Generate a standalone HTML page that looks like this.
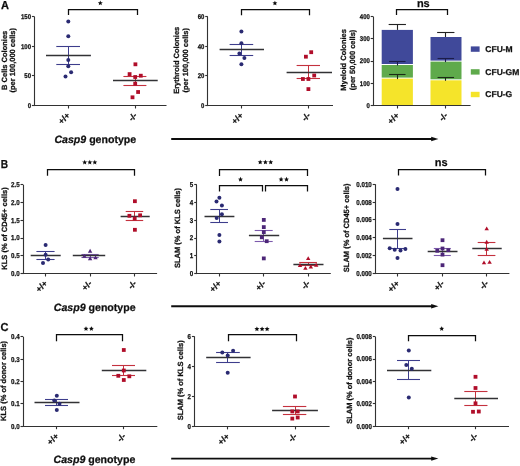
<!DOCTYPE html>
<html><head><meta charset="utf-8"><style>
html,body{margin:0;padding:0;background:#fff;width:520px;height:466px;overflow:hidden}
svg{display:block;will-change:transform}
text{font-family:"Liberation Sans",sans-serif;font-weight:bold;text-rendering:geometricPrecision;stroke:#111;stroke-width:0.25px}
</style></head><body>
<svg width="520" height="466" viewBox="0 0 520 466">
<defs><filter id="bl" x="0" y="0" width="100%" height="100%"><feGaussianBlur stdDeviation="0.3"/></filter></defs>
<rect width="520" height="466" fill="#fff"/>
<g filter="url(#bl)">
<text transform="translate(1.1,9.2) scale(0.96,1)" font-size="11.5" fill="#111">A</text>
<line x1="34.5" y1="16.6" x2="34.5" y2="106.05" stroke="#333333" stroke-width="1.1"/>
<line x1="31.9" y1="16.5" x2="34.5" y2="16.5" stroke="#333333" stroke-width="1.1"/>
<text transform="translate(31.00,19.00) scale(0.870,1)" font-size="6.90" text-anchor="end" fill="#111">150</text>
<line x1="31.9" y1="46.5" x2="34.5" y2="46.5" stroke="#333333" stroke-width="1.1"/>
<text transform="translate(31.00,48.60) scale(0.870,1)" font-size="6.90" text-anchor="end" fill="#111">100</text>
<line x1="31.9" y1="75.5" x2="34.5" y2="75.5" stroke="#333333" stroke-width="1.1"/>
<text transform="translate(31.00,78.20) scale(0.870,1)" font-size="6.90" text-anchor="end" fill="#111">50</text>
<line x1="31.9" y1="105.5" x2="34.5" y2="105.5" stroke="#333333" stroke-width="1.1"/>
<text transform="translate(31.00,107.80) scale(0.870,1)" font-size="6.90" text-anchor="end" fill="#111">0</text>
<line x1="33.95" y1="105.5" x2="166.5" y2="105.5" stroke="#333333" stroke-width="1.1"/>
<line x1="68.5" y1="105.5" x2="68.5" y2="108.5" stroke="#333333" stroke-width="1.1"/>
<text transform="translate(70.40,116.00) rotate(-45)" font-size="8.5" text-anchor="end" fill="#111">+/+</text>
<line x1="135.5" y1="105.5" x2="135.5" y2="108.5" stroke="#333333" stroke-width="1.1"/>
<text transform="translate(137.60,116.00) rotate(-45)" font-size="8.5" text-anchor="end" fill="#111">-/-</text>
<polyline points="68.5,15.0 68.5,9.5 137.5,9.5 137.5,15.0" fill="none" stroke="#111" stroke-width="1.25"/>
<polygon points="100.30,0.55 101.01,2.18 102.77,2.35 101.44,3.52 101.83,5.25 100.30,4.35 98.77,5.25 99.16,3.52 97.83,2.35 99.59,2.18" fill="#111"/>
<line x1="56.3" y1="46.5" x2="80" y2="46.5" stroke="#3e3e8c" stroke-width="1.1"/>
<line x1="56.3" y1="64.5" x2="80" y2="64.5" stroke="#3e3e8c" stroke-width="1.1"/>
<line x1="68.5" y1="46.1" x2="68.5" y2="64.1" stroke="#3e3e8c" stroke-width="1.0"/>
<line x1="46" y1="55.5" x2="90.9" y2="55.5" stroke="#303036" stroke-width="1.5"/>
<circle cx="68.3" cy="21.4" r="2.0" fill="#2b2b72"/>
<circle cx="68.3" cy="36.2" r="2.0" fill="#2b2b72"/>
<circle cx="68.3" cy="59.9" r="2.0" fill="#2b2b72"/>
<circle cx="68.3" cy="66.3" r="2.0" fill="#2b2b72"/>
<circle cx="71.1" cy="72.2" r="2.0" fill="#2b2b72"/>
<circle cx="65.5" cy="76.5" r="2.0" fill="#2b2b72"/>
<line x1="123.4" y1="76.5" x2="146.4" y2="76.5" stroke="#c4303c" stroke-width="1.1"/>
<line x1="123.4" y1="85.5" x2="146.4" y2="85.5" stroke="#c4303c" stroke-width="1.1"/>
<line x1="135.5" y1="76.1" x2="135.5" y2="85" stroke="#c4303c" stroke-width="1.0"/>
<line x1="113" y1="80.5" x2="157.7" y2="80.5" stroke="#303036" stroke-width="1.5"/>
<rect x="133.50" y="62.40" width="3.8" height="3.8" fill="#b0102a"/>
<rect x="127.70" y="72.20" width="3.8" height="3.8" fill="#b0102a"/>
<rect x="133.30" y="75.10" width="3.8" height="3.8" fill="#b0102a"/>
<rect x="138.90" y="73.80" width="3.8" height="3.8" fill="#b0102a"/>
<rect x="133.30" y="81.80" width="3.8" height="3.8" fill="#b0102a"/>
<rect x="136.20" y="90.10" width="3.8" height="3.8" fill="#b0102a"/>
<rect x="130.60" y="95.40" width="3.8" height="3.8" fill="#b0102a"/>
<text transform="translate(6.6,60.3) rotate(-90)" font-size="7.5" text-anchor="middle" fill="#111">B Cells Colonies</text>
<text transform="translate(15.1,60.3) rotate(-90)" font-size="7.5" text-anchor="middle" fill="#111">(per 100,000 cells)</text>
<line x1="207.5" y1="16.6" x2="207.5" y2="106.05" stroke="#333333" stroke-width="1.1"/>
<line x1="205.20000000000002" y1="16.5" x2="207.8" y2="16.5" stroke="#333333" stroke-width="1.1"/>
<text transform="translate(204.30,19.00) scale(0.870,1)" font-size="6.90" text-anchor="end" fill="#111">60</text>
<line x1="205.20000000000002" y1="46.5" x2="207.8" y2="46.5" stroke="#333333" stroke-width="1.1"/>
<text transform="translate(204.30,48.60) scale(0.870,1)" font-size="6.90" text-anchor="end" fill="#111">40</text>
<line x1="205.20000000000002" y1="75.5" x2="207.8" y2="75.5" stroke="#333333" stroke-width="1.1"/>
<text transform="translate(204.30,78.20) scale(0.870,1)" font-size="6.90" text-anchor="end" fill="#111">20</text>
<line x1="205.20000000000002" y1="105.5" x2="207.8" y2="105.5" stroke="#333333" stroke-width="1.1"/>
<text transform="translate(204.30,107.80) scale(0.870,1)" font-size="6.90" text-anchor="end" fill="#111">0</text>
<line x1="207.25" y1="105.5" x2="333" y2="105.5" stroke="#333333" stroke-width="1.1"/>
<line x1="241.5" y1="105.5" x2="241.5" y2="108.5" stroke="#333333" stroke-width="1.1"/>
<text transform="translate(243.80,116.00) rotate(-45)" font-size="8.5" text-anchor="end" fill="#111">+/+</text>
<line x1="308.5" y1="105.5" x2="308.5" y2="108.5" stroke="#333333" stroke-width="1.1"/>
<text transform="translate(310.90,116.00) rotate(-45)" font-size="8.5" text-anchor="end" fill="#111">-/-</text>
<polyline points="241.5,15.2 241.5,9.5 309.5,9.5 309.5,15.2" fill="none" stroke="#111" stroke-width="1.25"/>
<polygon points="274.90,0.65 275.61,2.28 277.37,2.45 276.04,3.62 276.43,5.35 274.90,4.45 273.37,5.35 273.76,3.62 272.43,2.45 274.19,2.28" fill="#111"/>
<line x1="229.6" y1="44.5" x2="253.2" y2="44.5" stroke="#3e3e8c" stroke-width="1.1"/>
<line x1="229.6" y1="55.5" x2="253.2" y2="55.5" stroke="#3e3e8c" stroke-width="1.1"/>
<line x1="241.5" y1="44.4" x2="241.5" y2="55.5" stroke="#3e3e8c" stroke-width="1.0"/>
<line x1="219.6" y1="49.5" x2="264" y2="49.5" stroke="#303036" stroke-width="1.5"/>
<circle cx="241.4" cy="31.4" r="2.0" fill="#2b2b72"/>
<circle cx="241.4" cy="43.2" r="2.0" fill="#2b2b72"/>
<circle cx="239.4" cy="53.5" r="2.0" fill="#2b2b72"/>
<circle cx="244.4" cy="58" r="2.0" fill="#2b2b72"/>
<circle cx="241.4" cy="64.2" r="2.0" fill="#2b2b72"/>
<line x1="296.6" y1="65.5" x2="320" y2="65.5" stroke="#c4303c" stroke-width="1.1"/>
<line x1="296.6" y1="78.5" x2="320" y2="78.5" stroke="#c4303c" stroke-width="1.1"/>
<line x1="308.5" y1="65.7" x2="308.5" y2="78" stroke="#c4303c" stroke-width="1.0"/>
<line x1="286.6" y1="72.5" x2="332" y2="72.5" stroke="#303036" stroke-width="1.5"/>
<rect x="309.30" y="50.30" width="3.8" height="3.8" fill="#b0102a"/>
<rect x="304.00" y="54.80" width="3.8" height="3.8" fill="#b0102a"/>
<rect x="301.00" y="77.10" width="3.8" height="3.8" fill="#b0102a"/>
<rect x="306.50" y="77.10" width="3.8" height="3.8" fill="#b0102a"/>
<rect x="312.30" y="73.60" width="3.8" height="3.8" fill="#b0102a"/>
<rect x="306.50" y="87.20" width="3.8" height="3.8" fill="#b0102a"/>
<text transform="translate(179.4,60.3) rotate(-90)" font-size="7.5" text-anchor="middle" fill="#111">Erythroid Colonies</text>
<text transform="translate(187.9,60.3) rotate(-90)" font-size="7.5" text-anchor="middle" fill="#111">(per 100,000 cells)</text>
<line x1="373.5" y1="16.6" x2="373.5" y2="106.05" stroke="#333333" stroke-width="1.1"/>
<line x1="370.7" y1="16.5" x2="373.3" y2="16.5" stroke="#333333" stroke-width="1.1"/>
<text transform="translate(369.80,19.00) scale(0.870,1)" font-size="6.90" text-anchor="end" fill="#111">400</text>
<line x1="370.7" y1="38.5" x2="373.3" y2="38.5" stroke="#333333" stroke-width="1.1"/>
<text transform="translate(369.80,41.30) scale(0.870,1)" font-size="6.90" text-anchor="end" fill="#111">300</text>
<line x1="370.7" y1="61.5" x2="373.3" y2="61.5" stroke="#333333" stroke-width="1.1"/>
<text transform="translate(369.80,63.40) scale(0.870,1)" font-size="6.90" text-anchor="end" fill="#111">200</text>
<line x1="370.7" y1="83.5" x2="373.3" y2="83.5" stroke="#333333" stroke-width="1.1"/>
<text transform="translate(369.80,85.70) scale(0.870,1)" font-size="6.90" text-anchor="end" fill="#111">100</text>
<line x1="370.7" y1="105.5" x2="373.3" y2="105.5" stroke="#333333" stroke-width="1.1"/>
<text transform="translate(369.80,107.80) scale(0.870,1)" font-size="6.90" text-anchor="end" fill="#111">0</text>
<line x1="372.75" y1="105.5" x2="470.6" y2="105.5" stroke="#333333" stroke-width="1.1"/>
<line x1="397.5" y1="105.5" x2="397.5" y2="108.5" stroke="#333333" stroke-width="1.1"/>
<text transform="translate(399.70,116.00) rotate(-45)" font-size="8.5" text-anchor="end" fill="#111">+/+</text>
<line x1="445.5" y1="105.5" x2="445.5" y2="108.5" stroke="#333333" stroke-width="1.1"/>
<text transform="translate(448.20,116.00) rotate(-45)" font-size="8.5" text-anchor="end" fill="#111">-/-</text>
<rect x="381.7" y="29.9" width="31.19999999999999" height="34.1" fill="#414a9a"/>
<rect x="381.7" y="65.0" width="31.19999999999999" height="12.599999999999994" fill="#5eaa4c"/>
<rect x="381.7" y="78.6" width="31.19999999999999" height="26.400000000000006" fill="#f5e42c"/>
<rect x="430.5" y="37.0" width="31.0" height="23.6" fill="#414a9a"/>
<rect x="430.5" y="61.6" width="31.0" height="17.699999999999996" fill="#5eaa4c"/>
<rect x="430.5" y="80.3" width="31.0" height="24.700000000000003" fill="#f5e42c"/>
<line x1="388.65000000000003" y1="24.5" x2="405.95" y2="24.5" stroke="#222" stroke-width="1.1"/>
<line x1="397.5" y1="24.5" x2="397.5" y2="29.9" stroke="#222" stroke-width="1.1"/>
<line x1="437.15000000000003" y1="32.5" x2="454.45" y2="32.5" stroke="#222" stroke-width="1.1"/>
<line x1="445.5" y1="32.7" x2="445.5" y2="37.0" stroke="#222" stroke-width="1.1"/>
<line x1="389.05" y1="61.5" x2="405.55" y2="61.5" stroke="#1c1f48" stroke-width="1.1"/>
<line x1="397.5" y1="61.0" x2="397.5" y2="65.5" stroke="#1c1f48" stroke-width="1.1"/>
<line x1="437.55" y1="58.5" x2="454.05" y2="58.5" stroke="#1c1f48" stroke-width="1.1"/>
<line x1="445.5" y1="58.6" x2="445.5" y2="62.1" stroke="#1c1f48" stroke-width="1.1"/>
<line x1="389.05" y1="74.5" x2="405.55" y2="74.5" stroke="#1c2a18" stroke-width="1.1"/>
<line x1="397.5" y1="74.5" x2="397.5" y2="79.1" stroke="#1c2a18" stroke-width="1.1"/>
<line x1="437.55" y1="77.5" x2="454.05" y2="77.5" stroke="#1c2a18" stroke-width="1.1"/>
<line x1="445.5" y1="77.1" x2="445.5" y2="80.8" stroke="#1c2a18" stroke-width="1.1"/>
<polyline points="396.5,15.0 396.5,9.5 447.5,9.5 447.5,15.0" fill="none" stroke="#111" stroke-width="1.25"/>
<text x="423.3" y="6.7" font-size="11" text-anchor="middle" fill="#111" >ns</text>
<text transform="translate(346.2,59.9) rotate(-90)" font-size="7.5" text-anchor="middle" fill="#111">Myeloid Colonies</text>
<text transform="translate(354.7,59.9) rotate(-90)" font-size="7.5" text-anchor="middle" fill="#111">(per 50,000 cells)</text>
<rect x="470.8" y="46.4" width="8.8" height="5.4" fill="#414a9a"/>
<text x="485.3" y="52.0" font-size="8.5" text-anchor="start" fill="#111" >CFU-M</text>
<rect x="470.8" y="69.2" width="8.8" height="5.4" fill="#5eaa4c"/>
<text x="485.3" y="74.8" font-size="8.5" text-anchor="start" fill="#111" >CFU-GM</text>
<rect x="470.8" y="91.8" width="8.8" height="5.4" fill="#f5e42c"/>
<text x="485.3" y="97.39999999999999" font-size="8.5" text-anchor="start" fill="#111" >CFU-G</text>
<text x="54.4" y="143.0" font-size="10.6" fill="#111"><tspan font-style="italic">Casp9</tspan> genotype</text>
<line x1="171.2" y1="139.0" x2="432.4" y2="139.0" stroke="#111" stroke-width="1.9"/>
<polygon points="438.4,139.0 431.2,136.8 431.2,141.2" fill="#111"/>
<text transform="translate(0.7,168.3) scale(0.88,1)" font-size="11.5" fill="#111">B</text>
<line x1="23.5" y1="184.7" x2="23.5" y2="274.05" stroke="#333333" stroke-width="1.1"/>
<line x1="20.5" y1="184.5" x2="23.1" y2="184.5" stroke="#333333" stroke-width="1.1"/>
<text transform="translate(19.60,187.10) scale(0.870,1)" font-size="7.13" text-anchor="end" fill="#111">2.5</text>
<line x1="20.5" y1="202.5" x2="23.1" y2="202.5" stroke="#333333" stroke-width="1.1"/>
<text transform="translate(19.60,204.70) scale(0.870,1)" font-size="7.13" text-anchor="end" fill="#111">2.0</text>
<line x1="20.5" y1="220.5" x2="23.1" y2="220.5" stroke="#333333" stroke-width="1.1"/>
<text transform="translate(19.60,222.60) scale(0.870,1)" font-size="7.13" text-anchor="end" fill="#111">1.5</text>
<line x1="20.5" y1="238.5" x2="23.1" y2="238.5" stroke="#333333" stroke-width="1.1"/>
<text transform="translate(19.60,240.40) scale(0.870,1)" font-size="7.13" text-anchor="end" fill="#111">1.0</text>
<line x1="20.5" y1="255.5" x2="23.1" y2="255.5" stroke="#333333" stroke-width="1.1"/>
<text transform="translate(19.60,258.10) scale(0.870,1)" font-size="7.13" text-anchor="end" fill="#111">0.5</text>
<line x1="20.5" y1="273.5" x2="23.1" y2="273.5" stroke="#333333" stroke-width="1.1"/>
<text transform="translate(19.60,275.90) scale(0.870,1)" font-size="7.13" text-anchor="end" fill="#111">0.0</text>
<line x1="22.55" y1="273.5" x2="157.1" y2="273.5" stroke="#333333" stroke-width="1.1"/>
<line x1="45.5" y1="273.5" x2="45.5" y2="276.5" stroke="#333333" stroke-width="1.1"/>
<text transform="translate(48.00,284.00) rotate(-45)" font-size="8.5" text-anchor="end" fill="#111">+/+</text>
<line x1="90.5" y1="273.5" x2="90.5" y2="276.5" stroke="#333333" stroke-width="1.1"/>
<text transform="translate(92.50,284.00) rotate(-45)" font-size="8.5" text-anchor="end" fill="#111">+/-</text>
<line x1="134.5" y1="273.5" x2="134.5" y2="276.5" stroke="#333333" stroke-width="1.1"/>
<text transform="translate(137.10,284.00) rotate(-45)" font-size="8.5" text-anchor="end" fill="#111">-/-</text>
<polyline points="47.5,175.8 47.5,169.5 134.5,169.5 134.5,175.8" fill="none" stroke="#111" stroke-width="1.25"/>
<polygon points="84.70,159.75 85.41,161.38 87.17,161.55 85.84,162.72 86.23,164.45 84.70,163.55 83.17,164.45 83.56,162.72 82.23,161.55 83.99,161.38" fill="#111"/>
<polygon points="89.80,159.75 90.51,161.38 92.27,161.55 90.94,162.72 91.33,164.45 89.80,163.55 88.27,164.45 88.66,162.72 87.33,161.55 89.09,161.38" fill="#111"/>
<polygon points="94.80,159.75 95.51,161.38 97.27,161.55 95.94,162.72 96.33,164.45 94.80,163.55 93.27,164.45 93.66,162.72 92.33,161.55 94.09,161.38" fill="#111"/>
<line x1="36.4" y1="251.5" x2="54.6" y2="251.5" stroke="#3e3e8c" stroke-width="1.1"/>
<line x1="36.4" y1="259.5" x2="54.6" y2="259.5" stroke="#3e3e8c" stroke-width="1.1"/>
<line x1="45.5" y1="251.5" x2="45.5" y2="259.4" stroke="#3e3e8c" stroke-width="1.0"/>
<line x1="30.7" y1="255.5" x2="60.7" y2="255.5" stroke="#303036" stroke-width="1.5"/>
<circle cx="45.6" cy="245.1" r="2.0" fill="#2b2b72"/>
<circle cx="45.6" cy="254.7" r="2.0" fill="#2b2b72"/>
<circle cx="48.2" cy="259.4" r="2.0" fill="#2b2b72"/>
<circle cx="43" cy="262.9" r="2.0" fill="#2b2b72"/>
<line x1="81.4" y1="254.5" x2="98.7" y2="254.5" stroke="#7c5aac" stroke-width="1.1"/>
<line x1="81.4" y1="257.5" x2="98.7" y2="257.5" stroke="#7c5aac" stroke-width="1.1"/>
<line x1="90.5" y1="254.2" x2="90.5" y2="257.3" stroke="#7c5aac" stroke-width="1.0"/>
<line x1="72.8" y1="255.5" x2="105.2" y2="255.5" stroke="#303036" stroke-width="1.5"/>
<polygon points="90.10,248.80 92.30,252.63 87.90,252.63" fill="#4e2878"/>
<polygon points="84.40,254.00 86.60,257.83 82.20,257.83" fill="#4e2878"/>
<polygon points="90.10,256.30 92.30,260.13 87.90,260.13" fill="#4e2878"/>
<polygon points="95.50,255.40 97.70,259.23 93.30,259.23" fill="#4e2878"/>
<line x1="125.7" y1="211.5" x2="143.2" y2="211.5" stroke="#c4303c" stroke-width="1.1"/>
<line x1="125.7" y1="220.5" x2="143.2" y2="220.5" stroke="#c4303c" stroke-width="1.1"/>
<line x1="134.5" y1="211.1" x2="134.5" y2="220.6" stroke="#c4303c" stroke-width="1.0"/>
<line x1="120.6" y1="216.5" x2="149.7" y2="216.5" stroke="#303036" stroke-width="1.5"/>
<rect x="133.00" y="199.30" width="3.8" height="3.8" fill="#b0102a"/>
<rect x="127.50" y="213.90" width="3.8" height="3.8" fill="#b0102a"/>
<rect x="138.20" y="213.40" width="3.8" height="3.8" fill="#b0102a"/>
<rect x="132.80" y="216.60" width="3.8" height="3.8" fill="#b0102a"/>
<rect x="133.00" y="227.90" width="3.8" height="3.8" fill="#b0102a"/>
<text transform="translate(6.6,228.5) rotate(-90)" font-size="7.5" text-anchor="middle" fill="#111">KLS (% of CD45+ cells)</text>
<line x1="196.5" y1="184.5" x2="196.5" y2="274.05" stroke="#333333" stroke-width="1.1"/>
<line x1="194.20000000000002" y1="184.5" x2="196.8" y2="184.5" stroke="#333333" stroke-width="1.1"/>
<text transform="translate(193.30,186.90) scale(0.870,1)" font-size="7.13" text-anchor="end" fill="#111">5</text>
<line x1="194.20000000000002" y1="202.5" x2="196.8" y2="202.5" stroke="#333333" stroke-width="1.1"/>
<text transform="translate(193.30,204.70) scale(0.870,1)" font-size="7.13" text-anchor="end" fill="#111">4</text>
<line x1="194.20000000000002" y1="220.5" x2="196.8" y2="220.5" stroke="#333333" stroke-width="1.1"/>
<text transform="translate(193.30,222.60) scale(0.870,1)" font-size="7.13" text-anchor="end" fill="#111">3</text>
<line x1="194.20000000000002" y1="238.5" x2="196.8" y2="238.5" stroke="#333333" stroke-width="1.1"/>
<text transform="translate(193.30,240.40) scale(0.870,1)" font-size="7.13" text-anchor="end" fill="#111">2</text>
<line x1="194.20000000000002" y1="255.5" x2="196.8" y2="255.5" stroke="#333333" stroke-width="1.1"/>
<text transform="translate(193.30,258.10) scale(0.870,1)" font-size="7.13" text-anchor="end" fill="#111">1</text>
<line x1="194.20000000000002" y1="273.5" x2="196.8" y2="273.5" stroke="#333333" stroke-width="1.1"/>
<text transform="translate(193.30,275.90) scale(0.870,1)" font-size="7.13" text-anchor="end" fill="#111">0</text>
<line x1="196.25" y1="273.5" x2="330.8" y2="273.5" stroke="#333333" stroke-width="1.1"/>
<line x1="219.5" y1="273.5" x2="219.5" y2="276.5" stroke="#333333" stroke-width="1.1"/>
<text transform="translate(221.80,284.00) rotate(-45)" font-size="8.5" text-anchor="end" fill="#111">+/+</text>
<line x1="263.5" y1="273.5" x2="263.5" y2="276.5" stroke="#333333" stroke-width="1.1"/>
<text transform="translate(266.20,284.00) rotate(-45)" font-size="8.5" text-anchor="end" fill="#111">+/-</text>
<line x1="308.5" y1="273.5" x2="308.5" y2="276.5" stroke="#333333" stroke-width="1.1"/>
<text transform="translate(310.60,284.00) rotate(-45)" font-size="8.5" text-anchor="end" fill="#111">-/-</text>
<polyline points="219.5,175.9 219.5,169.5 307.5,169.5 307.5,175.9" fill="none" stroke="#111" stroke-width="1.25"/>
<polygon points="260.20,159.65 260.91,161.28 262.67,161.45 261.34,162.62 261.73,164.35 260.20,163.45 258.67,164.35 259.06,162.62 257.73,161.45 259.49,161.28" fill="#111"/>
<polygon points="265.40,159.65 266.11,161.28 267.87,161.45 266.54,162.62 266.93,164.35 265.40,163.45 263.87,164.35 264.26,162.62 262.93,161.45 264.69,161.28" fill="#111"/>
<polygon points="270.70,159.65 271.41,161.28 273.17,161.45 271.84,162.62 272.23,164.35 270.70,163.45 269.17,164.35 269.56,162.62 268.23,161.45 269.99,161.28" fill="#111"/>
<polyline points="219.5,191.5 219.5,185.5 262.5,185.5 262.5,191.5" fill="none" stroke="#111" stroke-width="1.25"/>
<polygon points="240.50,176.85 241.21,178.48 242.97,178.65 241.64,179.82 242.03,181.55 240.50,180.65 238.97,181.55 239.36,179.82 238.03,178.65 239.79,178.48" fill="#111"/>
<polyline points="265.5,191.5 265.5,185.5 307.5,185.5 307.5,191.5" fill="none" stroke="#111" stroke-width="1.25"/>
<polygon points="281.10,176.85 281.81,178.48 283.57,178.65 282.24,179.82 282.63,181.55 281.10,180.65 279.57,181.55 279.96,179.82 278.63,178.65 280.39,178.48" fill="#111"/>
<polygon points="286.50,176.85 287.21,178.48 288.97,178.65 287.64,179.82 288.03,181.55 286.50,180.65 284.97,181.55 285.36,179.82 284.03,178.65 285.79,178.48" fill="#111"/>
<line x1="210.3" y1="209.5" x2="228" y2="209.5" stroke="#3e3e8c" stroke-width="1.1"/>
<line x1="210.3" y1="222.5" x2="228" y2="222.5" stroke="#3e3e8c" stroke-width="1.1"/>
<line x1="219.5" y1="209.7" x2="219.5" y2="222.4" stroke="#3e3e8c" stroke-width="1.0"/>
<line x1="204.5" y1="216.5" x2="234.4" y2="216.5" stroke="#303036" stroke-width="1.5"/>
<circle cx="219.4" cy="197.7" r="2.0" fill="#2b2b72"/>
<circle cx="216.5" cy="201.6" r="2.0" fill="#2b2b72"/>
<circle cx="221.9" cy="205.4" r="2.0" fill="#2b2b72"/>
<circle cx="221.9" cy="214.3" r="2.0" fill="#2b2b72"/>
<circle cx="216.7" cy="218" r="2.0" fill="#2b2b72"/>
<circle cx="219.4" cy="235" r="2.0" fill="#2b2b72"/>
<circle cx="219.4" cy="241.4" r="2.0" fill="#2b2b72"/>
<line x1="254.7" y1="230.5" x2="272.7" y2="230.5" stroke="#7c5aac" stroke-width="1.1"/>
<line x1="254.7" y1="241.5" x2="272.7" y2="241.5" stroke="#7c5aac" stroke-width="1.1"/>
<line x1="263.5" y1="230.2" x2="263.5" y2="241.2" stroke="#7c5aac" stroke-width="1.0"/>
<line x1="248.9" y1="235.5" x2="279.2" y2="235.5" stroke="#303036" stroke-width="1.5"/>
<rect x="261.90" y="218.00" width="3.8" height="3.8" fill="#4e2878"/>
<rect x="261.90" y="225.20" width="3.8" height="3.8" fill="#4e2878"/>
<rect x="261.90" y="230.20" width="3.8" height="3.8" fill="#4e2878"/>
<rect x="259.90" y="235.40" width="3.8" height="3.8" fill="#4e2878"/>
<rect x="264.80" y="239.30" width="3.8" height="3.8" fill="#4e2878"/>
<rect x="261.90" y="256.50" width="3.8" height="3.8" fill="#4e2878"/>
<line x1="299.2" y1="262.5" x2="316.9" y2="262.5" stroke="#c4303c" stroke-width="1.1"/>
<line x1="299.2" y1="265.5" x2="316.9" y2="265.5" stroke="#c4303c" stroke-width="1.1"/>
<line x1="308.5" y1="262.8" x2="308.5" y2="265.7" stroke="#c4303c" stroke-width="1.0"/>
<line x1="293.4" y1="264.5" x2="323.5" y2="264.5" stroke="#303036" stroke-width="1.5"/>
<polygon points="308.20,256.20 310.40,260.03 306.00,260.03" fill="#b0102a"/>
<polygon points="300.00,263.10 302.20,266.93 297.80,266.93" fill="#b0102a"/>
<polygon points="305.40,265.90 307.60,269.73 303.20,269.73" fill="#b0102a"/>
<polygon points="310.80,264.60 313.00,268.43 308.60,268.43" fill="#b0102a"/>
<polygon points="316.20,262.80 318.40,266.63 314.00,266.63" fill="#b0102a"/>
<text transform="translate(180.3,228.0) rotate(-90)" font-size="7.5" text-anchor="middle" fill="#111">SLAM (% of KLS cells)</text>
<line x1="375.5" y1="184.2" x2="375.5" y2="274.05" stroke="#333333" stroke-width="1.1"/>
<line x1="372.7" y1="184.5" x2="375.3" y2="184.5" stroke="#333333" stroke-width="1.1"/>
<text transform="translate(371.80,186.60) scale(0.870,1)" font-size="7.13" text-anchor="end" fill="#111">0.010</text>
<line x1="372.7" y1="202.5" x2="375.3" y2="202.5" stroke="#333333" stroke-width="1.1"/>
<text transform="translate(371.80,204.50) scale(0.870,1)" font-size="7.13" text-anchor="end" fill="#111">0.008</text>
<line x1="372.7" y1="219.5" x2="375.3" y2="219.5" stroke="#333333" stroke-width="1.1"/>
<text transform="translate(371.80,222.30) scale(0.870,1)" font-size="7.13" text-anchor="end" fill="#111">0.006</text>
<line x1="372.7" y1="237.5" x2="375.3" y2="237.5" stroke="#333333" stroke-width="1.1"/>
<text transform="translate(371.80,240.30) scale(0.870,1)" font-size="7.13" text-anchor="end" fill="#111">0.004</text>
<line x1="372.7" y1="255.5" x2="375.3" y2="255.5" stroke="#333333" stroke-width="1.1"/>
<text transform="translate(371.80,258.20) scale(0.870,1)" font-size="7.13" text-anchor="end" fill="#111">0.002</text>
<line x1="372.7" y1="273.5" x2="375.3" y2="273.5" stroke="#333333" stroke-width="1.1"/>
<text transform="translate(371.80,276.00) scale(0.870,1)" font-size="7.13" text-anchor="end" fill="#111">0.000</text>
<line x1="374.75" y1="273.5" x2="509.4" y2="273.5" stroke="#333333" stroke-width="1.1"/>
<line x1="397.5" y1="273.5" x2="397.5" y2="276.5" stroke="#333333" stroke-width="1.1"/>
<text transform="translate(400.00,284.00) rotate(-45)" font-size="8.5" text-anchor="end" fill="#111">+/+</text>
<line x1="442.5" y1="273.5" x2="442.5" y2="276.5" stroke="#333333" stroke-width="1.1"/>
<text transform="translate(444.70,284.00) rotate(-45)" font-size="8.5" text-anchor="end" fill="#111">+/-</text>
<line x1="486.5" y1="273.5" x2="486.5" y2="276.5" stroke="#333333" stroke-width="1.1"/>
<text transform="translate(489.00,284.00) rotate(-45)" font-size="8.5" text-anchor="end" fill="#111">-/-</text>
<polyline points="398.5,175.5 398.5,169.5 485.5,169.5 485.5,175.5" fill="none" stroke="#111" stroke-width="1.25"/>
<text x="441.2" y="166.2" font-size="11" text-anchor="middle" fill="#111" >ns</text>
<line x1="389.3" y1="229.5" x2="406" y2="229.5" stroke="#3e3e8c" stroke-width="1.1"/>
<line x1="389.3" y1="248.5" x2="406" y2="248.5" stroke="#3e3e8c" stroke-width="1.1"/>
<line x1="397.5" y1="229.4" x2="397.5" y2="248.2" stroke="#3e3e8c" stroke-width="1.0"/>
<line x1="382.9" y1="238.5" x2="412.5" y2="238.5" stroke="#303036" stroke-width="1.5"/>
<circle cx="397.5" cy="189" r="2.0" fill="#2b2b72"/>
<circle cx="397.5" cy="224" r="2.0" fill="#2b2b72"/>
<circle cx="389.7" cy="248.2" r="2.0" fill="#2b2b72"/>
<circle cx="394.7" cy="249.7" r="2.0" fill="#2b2b72"/>
<circle cx="400.5" cy="250.4" r="2.0" fill="#2b2b72"/>
<circle cx="405.4" cy="249.1" r="2.0" fill="#2b2b72"/>
<circle cx="397.5" cy="257.9" r="2.0" fill="#2b2b72"/>
<line x1="433.8" y1="248.5" x2="450.8" y2="248.5" stroke="#7c5aac" stroke-width="1.1"/>
<line x1="433.8" y1="255.5" x2="450.8" y2="255.5" stroke="#7c5aac" stroke-width="1.1"/>
<line x1="442.5" y1="248.5" x2="442.5" y2="255.2" stroke="#7c5aac" stroke-width="1.0"/>
<line x1="427.7" y1="251.5" x2="457.5" y2="251.5" stroke="#303036" stroke-width="1.5"/>
<rect x="440.60" y="238.30" width="3.8" height="3.8" fill="#4e2878"/>
<rect x="440.60" y="246.60" width="3.8" height="3.8" fill="#4e2878"/>
<rect x="435.40" y="248.90" width="3.8" height="3.8" fill="#4e2878"/>
<rect x="446.40" y="248.30" width="3.8" height="3.8" fill="#4e2878"/>
<rect x="440.60" y="252.70" width="3.8" height="3.8" fill="#4e2878"/>
<rect x="440.60" y="263.30" width="3.8" height="3.8" fill="#4e2878"/>
<line x1="477.7" y1="242.5" x2="495.4" y2="242.5" stroke="#c4303c" stroke-width="1.1"/>
<line x1="477.7" y1="255.5" x2="495.4" y2="255.5" stroke="#c4303c" stroke-width="1.1"/>
<line x1="486.5" y1="242.1" x2="486.5" y2="255.2" stroke="#c4303c" stroke-width="1.0"/>
<line x1="472.3" y1="248.5" x2="501.7" y2="248.5" stroke="#303036" stroke-width="1.5"/>
<polygon points="486.70,226.40 488.90,230.23 484.50,230.23" fill="#b0102a"/>
<polygon points="486.70,239.80 488.90,243.63 484.50,243.63" fill="#b0102a"/>
<polygon points="486.70,246.90 488.90,250.73 484.50,250.73" fill="#b0102a"/>
<polygon points="484.00,260.40 486.20,264.23 481.80,264.23" fill="#b0102a"/>
<polygon points="489.60,260.00 491.80,263.83 487.40,263.83" fill="#b0102a"/>
<text transform="translate(349.4,227.9) rotate(-90)" font-size="7.5" text-anchor="middle" fill="#111">SLAM (% of CD45+ cells)</text>
<text x="53.8" y="311.2" font-size="10.6" fill="#111"><tspan font-style="italic">Casp9</tspan> genotype</text>
<line x1="171.2" y1="306.3" x2="432.4" y2="306.3" stroke="#111" stroke-width="1.9"/>
<polygon points="438.4,306.3 431.2,304.1 431.2,308.5" fill="#111"/>
<text transform="translate(0.6,330.8) scale(0.96,1)" font-size="11.5" fill="#111">C</text>
<line x1="23.5" y1="336.7" x2="23.5" y2="426.75" stroke="#333333" stroke-width="1.1"/>
<line x1="20.5" y1="336.5" x2="23.1" y2="336.5" stroke="#333333" stroke-width="1.1"/>
<text transform="translate(19.60,339.10) scale(0.870,1)" font-size="7.13" text-anchor="end" fill="#111">0.4</text>
<line x1="20.5" y1="359.5" x2="23.1" y2="359.5" stroke="#333333" stroke-width="1.1"/>
<text transform="translate(19.60,361.60) scale(0.870,1)" font-size="7.13" text-anchor="end" fill="#111">0.3</text>
<line x1="20.5" y1="381.5" x2="23.1" y2="381.5" stroke="#333333" stroke-width="1.1"/>
<text transform="translate(19.60,384.00) scale(0.870,1)" font-size="7.13" text-anchor="end" fill="#111">0.2</text>
<line x1="20.5" y1="403.5" x2="23.1" y2="403.5" stroke="#333333" stroke-width="1.1"/>
<text transform="translate(19.60,406.30) scale(0.870,1)" font-size="7.13" text-anchor="end" fill="#111">0.1</text>
<line x1="20.5" y1="426.5" x2="23.1" y2="426.5" stroke="#333333" stroke-width="1.1"/>
<text transform="translate(19.60,428.60) scale(0.870,1)" font-size="7.13" text-anchor="end" fill="#111">0.0</text>
<line x1="22.55" y1="426.5" x2="157.3" y2="426.5" stroke="#333333" stroke-width="1.1"/>
<line x1="56.5" y1="426.2" x2="56.5" y2="429.2" stroke="#333333" stroke-width="1.1"/>
<text transform="translate(59.20,436.70) rotate(-45)" font-size="8.5" text-anchor="end" fill="#111">+/+</text>
<line x1="123.5" y1="426.2" x2="123.5" y2="429.2" stroke="#333333" stroke-width="1.1"/>
<text transform="translate(126.20,436.70) rotate(-45)" font-size="8.5" text-anchor="end" fill="#111">-/-</text>
<polyline points="56.5,341.2 56.5,334.5 122.5,334.5 122.5,341.2" fill="none" stroke="#111" stroke-width="1.25"/>
<polygon points="86.00,326.15 86.71,327.78 88.47,327.95 87.14,329.12 87.53,330.85 86.00,329.95 84.47,330.85 84.86,329.12 83.53,327.95 85.29,327.78" fill="#111"/>
<polygon points="91.40,326.15 92.11,327.78 93.87,327.95 92.54,329.12 92.93,330.85 91.40,329.95 89.87,330.85 90.26,329.12 88.93,327.95 90.69,327.78" fill="#111"/>
<line x1="45" y1="399.5" x2="68" y2="399.5" stroke="#3e3e8c" stroke-width="1.1"/>
<line x1="45" y1="405.5" x2="68" y2="405.5" stroke="#3e3e8c" stroke-width="1.1"/>
<line x1="56.5" y1="399.3" x2="56.5" y2="405.5" stroke="#3e3e8c" stroke-width="1.0"/>
<line x1="34.5" y1="402.5" x2="79.5" y2="402.5" stroke="#303036" stroke-width="1.5"/>
<circle cx="56.8" cy="395.8" r="2.0" fill="#2b2b72"/>
<circle cx="54.3" cy="400.5" r="2.0" fill="#2b2b72"/>
<circle cx="59.5" cy="403.8" r="2.0" fill="#2b2b72"/>
<circle cx="56.8" cy="410" r="2.0" fill="#2b2b72"/>
<line x1="112" y1="365.5" x2="135" y2="365.5" stroke="#c4303c" stroke-width="1.1"/>
<line x1="112" y1="375.5" x2="135" y2="375.5" stroke="#c4303c" stroke-width="1.1"/>
<line x1="123.5" y1="365" x2="123.5" y2="375.5" stroke="#c4303c" stroke-width="1.0"/>
<line x1="101.8" y1="370.5" x2="146.3" y2="370.5" stroke="#303036" stroke-width="1.5"/>
<rect x="121.90" y="348.10" width="3.8" height="3.8" fill="#b0102a"/>
<rect x="121.90" y="368.60" width="3.8" height="3.8" fill="#b0102a"/>
<rect x="116.40" y="373.90" width="3.8" height="3.8" fill="#b0102a"/>
<rect x="127.40" y="374.40" width="3.8" height="3.8" fill="#b0102a"/>
<rect x="121.90" y="378.10" width="3.8" height="3.8" fill="#b0102a"/>
<text transform="translate(6.2,380.9) rotate(-90)" font-size="7.5" text-anchor="middle" fill="#111">KLS (% of donor cells)</text>
<line x1="194.5" y1="336.3" x2="194.5" y2="426.95" stroke="#333333" stroke-width="1.1"/>
<line x1="191.9" y1="336.5" x2="194.5" y2="336.5" stroke="#333333" stroke-width="1.1"/>
<text transform="translate(191.00,338.70) scale(0.870,1)" font-size="7.13" text-anchor="end" fill="#111">6</text>
<line x1="191.9" y1="366.5" x2="194.5" y2="366.5" stroke="#333333" stroke-width="1.1"/>
<text transform="translate(191.00,368.80) scale(0.870,1)" font-size="7.13" text-anchor="end" fill="#111">4</text>
<line x1="191.9" y1="396.5" x2="194.5" y2="396.5" stroke="#333333" stroke-width="1.1"/>
<text transform="translate(191.00,398.90) scale(0.870,1)" font-size="7.13" text-anchor="end" fill="#111">2</text>
<line x1="191.9" y1="426.5" x2="194.5" y2="426.5" stroke="#333333" stroke-width="1.1"/>
<text transform="translate(191.00,428.80) scale(0.870,1)" font-size="7.13" text-anchor="end" fill="#111">0</text>
<line x1="193.95" y1="426.5" x2="329.6" y2="426.5" stroke="#333333" stroke-width="1.1"/>
<line x1="227.5" y1="426.4" x2="227.5" y2="429.4" stroke="#333333" stroke-width="1.1"/>
<text transform="translate(230.00,436.90) rotate(-45)" font-size="8.5" text-anchor="end" fill="#111">+/+</text>
<line x1="295.5" y1="426.4" x2="295.5" y2="429.4" stroke="#333333" stroke-width="1.1"/>
<text transform="translate(297.40,436.90) rotate(-45)" font-size="8.5" text-anchor="end" fill="#111">-/-</text>
<polyline points="228.5,341.2 228.5,334.5 296.5,334.5 296.5,341.2" fill="none" stroke="#111" stroke-width="1.25"/>
<polygon points="256.90,326.45 257.61,328.08 259.37,328.25 258.04,329.42 258.43,331.15 256.90,330.25 255.37,331.15 255.76,329.42 254.43,328.25 256.19,328.08" fill="#111"/>
<polygon points="262.10,326.45 262.81,328.08 264.57,328.25 263.24,329.42 263.63,331.15 262.10,330.25 260.57,331.15 260.96,329.42 259.63,328.25 261.39,328.08" fill="#111"/>
<polygon points="267.10,326.45 267.81,328.08 269.57,328.25 268.24,329.42 268.63,331.15 267.10,330.25 265.57,331.15 265.96,329.42 264.63,328.25 266.39,328.08" fill="#111"/>
<line x1="216.1" y1="352.5" x2="239.8" y2="352.5" stroke="#3e3e8c" stroke-width="1.1"/>
<line x1="216.1" y1="362.5" x2="239.8" y2="362.5" stroke="#3e3e8c" stroke-width="1.1"/>
<line x1="227.5" y1="352.4" x2="227.5" y2="362.6" stroke="#3e3e8c" stroke-width="1.0"/>
<line x1="206.2" y1="357.5" x2="250.6" y2="357.5" stroke="#303036" stroke-width="1.5"/>
<circle cx="222.3" cy="352.4" r="2.0" fill="#2b2b72"/>
<circle cx="233.1" cy="350.8" r="2.0" fill="#2b2b72"/>
<circle cx="227.7" cy="355.6" r="2.0" fill="#2b2b72"/>
<circle cx="227.7" cy="372.8" r="2.0" fill="#2b2b72"/>
<line x1="282.9" y1="406.5" x2="306.3" y2="406.5" stroke="#c4303c" stroke-width="1.1"/>
<line x1="282.9" y1="414.5" x2="306.3" y2="414.5" stroke="#c4303c" stroke-width="1.1"/>
<line x1="295.5" y1="406.8" x2="295.5" y2="414.9" stroke="#c4303c" stroke-width="1.0"/>
<line x1="272.1" y1="410.5" x2="317.9" y2="410.5" stroke="#303036" stroke-width="1.5"/>
<rect x="293.10" y="394.60" width="3.8" height="3.8" fill="#b0102a"/>
<rect x="290.40" y="409.50" width="3.8" height="3.8" fill="#b0102a"/>
<rect x="295.80" y="409.50" width="3.8" height="3.8" fill="#b0102a"/>
<rect x="290.40" y="416.70" width="3.8" height="3.8" fill="#b0102a"/>
<rect x="295.80" y="415.60" width="3.8" height="3.8" fill="#b0102a"/>
<text transform="translate(182.8,380.3) rotate(-90)" font-size="7.5" text-anchor="middle" fill="#111">SLAM (% of KLS cells)</text>
<line x1="375.5" y1="336.7" x2="375.5" y2="426.75" stroke="#333333" stroke-width="1.1"/>
<line x1="372.79999999999995" y1="336.5" x2="375.4" y2="336.5" stroke="#333333" stroke-width="1.1"/>
<text transform="translate(371.90,339.10) scale(0.870,1)" font-size="7.13" text-anchor="end" fill="#111">0.008</text>
<line x1="372.79999999999995" y1="359.5" x2="375.4" y2="359.5" stroke="#333333" stroke-width="1.1"/>
<text transform="translate(371.90,361.40) scale(0.870,1)" font-size="7.13" text-anchor="end" fill="#111">0.006</text>
<line x1="372.79999999999995" y1="381.5" x2="375.4" y2="381.5" stroke="#333333" stroke-width="1.1"/>
<text transform="translate(371.90,383.80) scale(0.870,1)" font-size="7.13" text-anchor="end" fill="#111">0.004</text>
<line x1="372.79999999999995" y1="403.5" x2="375.4" y2="403.5" stroke="#333333" stroke-width="1.1"/>
<text transform="translate(371.90,406.30) scale(0.870,1)" font-size="7.13" text-anchor="end" fill="#111">0.002</text>
<line x1="372.79999999999995" y1="426.5" x2="375.4" y2="426.5" stroke="#333333" stroke-width="1.1"/>
<text transform="translate(371.90,428.60) scale(0.870,1)" font-size="7.13" text-anchor="end" fill="#111">0.000</text>
<line x1="374.84999999999997" y1="426.5" x2="509" y2="426.5" stroke="#333333" stroke-width="1.1"/>
<line x1="408.5" y1="426.2" x2="408.5" y2="429.2" stroke="#333333" stroke-width="1.1"/>
<text transform="translate(411.20,436.70) rotate(-45)" font-size="8.5" text-anchor="end" fill="#111">+/+</text>
<line x1="475.5" y1="426.2" x2="475.5" y2="429.2" stroke="#333333" stroke-width="1.1"/>
<text transform="translate(478.20,436.70) rotate(-45)" font-size="8.5" text-anchor="end" fill="#111">-/-</text>
<polyline points="408.5,341.2 408.5,335.5 475.5,335.5 475.5,341.2" fill="none" stroke="#111" stroke-width="1.25"/>
<polygon points="441.70,326.15 442.41,327.78 444.17,327.95 442.84,329.12 443.23,330.85 441.70,329.95 440.17,330.85 440.56,329.12 439.23,327.95 440.99,327.78" fill="#111"/>
<line x1="397" y1="360.5" x2="420" y2="360.5" stroke="#3e3e8c" stroke-width="1.1"/>
<line x1="397" y1="379.5" x2="420" y2="379.5" stroke="#3e3e8c" stroke-width="1.1"/>
<line x1="408.5" y1="360.3" x2="408.5" y2="379.8" stroke="#3e3e8c" stroke-width="1.0"/>
<line x1="387" y1="370.5" x2="431.3" y2="370.5" stroke="#303036" stroke-width="1.5"/>
<circle cx="408.8" cy="350.5" r="2.0" fill="#2b2b72"/>
<circle cx="406.3" cy="365" r="2.0" fill="#2b2b72"/>
<circle cx="411.8" cy="368.8" r="2.0" fill="#2b2b72"/>
<circle cx="408.8" cy="397.5" r="2.0" fill="#2b2b72"/>
<line x1="464.3" y1="391.5" x2="487.5" y2="391.5" stroke="#c4303c" stroke-width="1.1"/>
<line x1="464.3" y1="405.5" x2="487.5" y2="405.5" stroke="#c4303c" stroke-width="1.1"/>
<line x1="475.5" y1="391.3" x2="475.5" y2="405" stroke="#c4303c" stroke-width="1.0"/>
<line x1="454.3" y1="398.5" x2="498" y2="398.5" stroke="#303036" stroke-width="1.5"/>
<rect x="473.60" y="374.90" width="3.8" height="3.8" fill="#b0102a"/>
<rect x="473.60" y="386.10" width="3.8" height="3.8" fill="#b0102a"/>
<rect x="473.60" y="401.40" width="3.8" height="3.8" fill="#b0102a"/>
<rect x="471.10" y="409.90" width="3.8" height="3.8" fill="#b0102a"/>
<rect x="476.90" y="409.60" width="3.8" height="3.8" fill="#b0102a"/>
<text transform="translate(351.6,380.7) rotate(-90)" font-size="7.5" text-anchor="middle" fill="#111">SLAM (% of donor cells)</text>
<text x="53.5" y="462.9" font-size="10.6" fill="#111"><tspan font-style="italic">Casp9</tspan> genotype</text>
<line x1="171.2" y1="458.6" x2="432.4" y2="458.6" stroke="#111" stroke-width="1.9"/>
<polygon points="438.4,458.6 431.2,456.40000000000003 431.2,460.8" fill="#111"/>
</g>
</svg>
</body></html>
